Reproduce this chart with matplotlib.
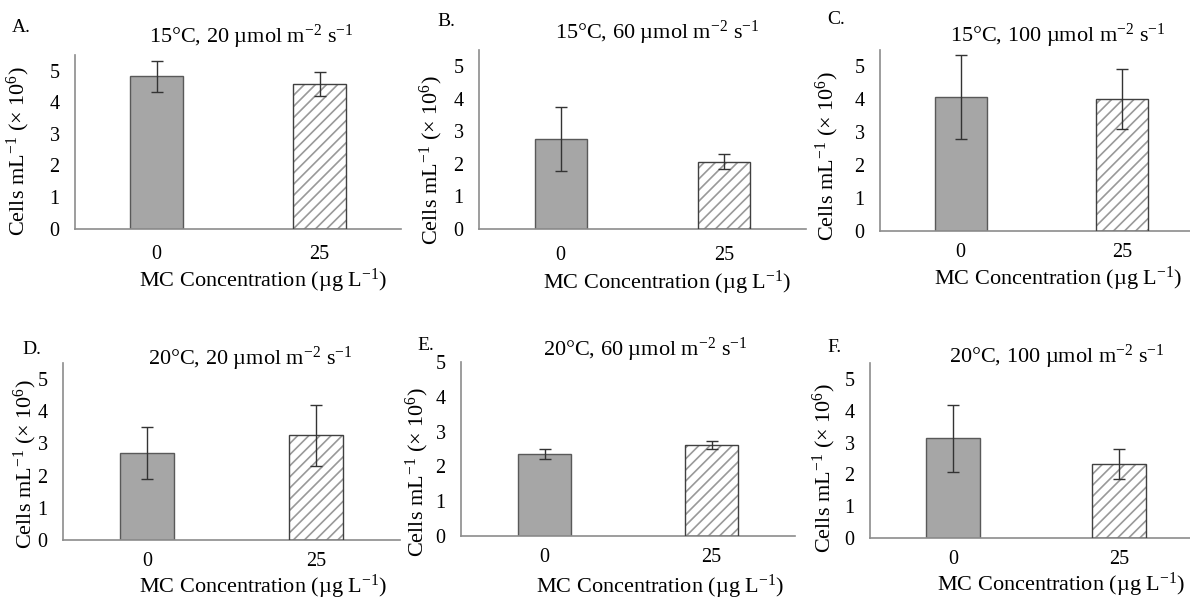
import matplotlib
matplotlib.use('Agg')
import matplotlib.pyplot as plt

plt.rcParams['font.family'] = 'Liberation Serif'
plt.rcParams['mathtext.fontset'] = 'custom'
plt.rcParams['mathtext.rm'] = 'Liberation Serif'
plt.rcParams['mathtext.it'] = 'Liberation Serif:italic'
plt.rcParams['hatch.linewidth'] = 1.2

# data
concentrations = ['0', '25']
panel_letters = ['A.', 'B.', 'C.', 'D.', 'E.', 'F.']
temps = ['15°C', '15°C', '15°C', '20°C', '20°C', '20°C']
lights = ['20', '60', '100', '20', '60', '100']
means = [[4.83, 4.58], [2.77, 2.06], [4.08, 4.01],
         [2.70, 3.25], [2.36, 2.61], [3.13, 2.33]]
errors = [[0.49, 0.38], [0.98, 0.23], [1.28, 0.90],
          [0.80, 0.95], [0.15, 0.12], [1.04, 0.46]]
ymax = [5.5, 5.5, 5.5, 5.5, 5.0, 5.5]

W, H = 1190, 599
fig = plt.figure(figsize=(W / 100, H / 100), dpi=100)

# layout in pixels: left, right, top, bottom of each axes
boxes = [(75, 401, 55, 228.5), (479, 806, 50, 229), (880, 1203, 50, 231),
         (63, 400, 363, 540), (461, 795, 362, 536), (870, 1202, 363, 538)]
title_xy = [(251, 37), (657, 33), (1058, 36), (250, 359), (645, 350), (1057, 357)]
letter_xy = [(12, 27), (437, 21), (827, 19), (22, 349), (417, 346), (827, 347)]
ylab_xy = [(18, 151), (431, 160), (827, 156), (25, 464), (417, 472), (824, 468)]
xlab_xy = [(263, 281), (667, 283), (1058, 279), (263, 587), (660, 587), (1061, 585)]
xpad = [12, 12, 8.5, 9, 9, 9]

def fx(px):
    return px / W

def fy(py):
    return 1 - py / H

axis_col = '#8c8c8c'
for i in range(6):
    l, r, t, b = boxes[i]
    ax = fig.add_axes([fx(l), fy(b), (r - l) / W, (b - t) / H])
    x = [0, 1]
    # solid bar
    ax.bar(x[0], means[i][0], width=0.32, color='#a6a6a6', edgecolor='#595959',
           linewidth=1.0, zorder=2)
    # hatched bar: hatch drawn light grey, outline dark
    ax.bar(x[1], means[i][1], width=0.32, color='white', edgecolor='#999999',
           hatch='///', linewidth=0, zorder=2)
    ax.bar(x[1], means[i][1], width=0.32, fill=False, edgecolor='#404040',
           linewidth=1.0, zorder=3)
    ax.errorbar(x, means[i], yerr=errors[i], fmt='none', ecolor='#333333',
                elinewidth=1.0, capsize=4, capthick=1.0, zorder=4)

    ax.set_xlim(-0.5, 1.5)
    ax.set_ylim(0, ymax[i])
    ax.set_yticks(range(0, 6))
    ax.set_xticks(x)
    ax.set_xticklabels(concentrations)
    ax.tick_params(axis='both', length=0, labelsize=14.5, colors='black')
    ax.tick_params(axis='y', pad=11)
    ax.tick_params(axis='x', pad=xpad[i])
    for s in ['top', 'right']:
        ax.spines[s].set_visible(False)
    for s in ['left', 'bottom']:
        ax.spines[s].set_color(axis_col)
        ax.spines[s].set_linewidth(1.2)
    ax.patch.set_alpha(0)

    fig.text(fx(title_xy[i][0]), fy(title_xy[i][1]),
             temps[i] + ', ' + lights[i] + ' µmol m$^{-2}$ s$^{-1}$',
             ha='center', va='center', fontsize=16)
    fig.text(fx(letter_xy[i][0]), fy(letter_xy[i][1]), panel_letters[i],
             ha='left', va='center', fontsize=14)
    fig.text(fx(ylab_xy[i][0]), fy(ylab_xy[i][1]), 'Cells mL$^{-1}$ (× 10$^{6}$)',
             ha='center', va='center', rotation=90, fontsize=16)
    fig.text(fx(xlab_xy[i][0]), fy(xlab_xy[i][1]), 'MC Concentration (µg L$^{-1}$)',
             ha='center', va='center', fontsize=16)

fig.savefig('out.png', dpi=100)
